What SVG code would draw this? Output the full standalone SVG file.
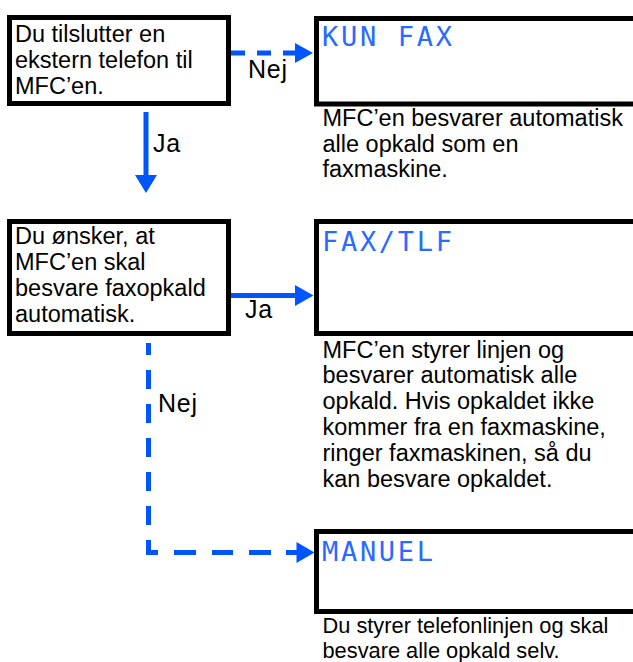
<svg xmlns="http://www.w3.org/2000/svg" width="633" height="662" viewBox="0 0 633 662">
  <style>
    .box { fill: #ffffff; stroke: #000000; stroke-width: 5; }
    .txt { font-family: "Liberation Sans", Arial, sans-serif; font-size: 23.5px; fill: #000000; }
    .small { font-size: 21.8px; }
    .lbl { font-family: "Liberation Sans", Arial, sans-serif; font-size: 25px; letter-spacing: 0.8px; fill: #000000; }
    .lcd { font-family: "DejaVu Sans Mono", monospace; font-size: 27px; fill: #2a6bff; letter-spacing: 2.7px; }
    .conn { fill: none; stroke: #0055ff; stroke-width: 5; stroke-linecap: butt; }
    .head { fill: #0055ff; }
  </style>
  <rect width="633" height="662" fill="#ffffff"/>

  <g id="connectors">
    <path class="conn" d="M231,53 H296" stroke-dasharray="14 12"/>
    <polygon class="head" points="295,43 313,53 295,63"/>
    <path class="conn" d="M146,112 V176"/>
    <polygon class="head" points="135,175 157,175 146,193"/>
    <path class="conn" d="M231,295.5 H296"/>
    <polygon class="head" points="295,285 313.5,295.5 295,306"/>
    <path class="conn" d="M148.5,343 V552.5 H298" stroke-dasharray="12 15 19 15 19 15 19 15 19 15 19 15 22 16 22 16 21 16 22 15 12 100"/>
    <polygon class="head" points="296.5,542 314.5,552.5 296.5,563"/>
    <text class="lbl" x="248" y="78">Nej</text>
    <text class="lbl" x="153" y="152">Ja</text>
    <text class="lbl" x="245" y="318">Ja</text>
    <text class="lbl" x="158" y="412">Nej</text>
  </g>

  <g id="q1">
    <rect class="box" x="9.5" y="17.5" width="219" height="86"/>
    <text class="txt" x="15" y="41.5">Du tilslutter en</text>
    <text class="txt" x="15" y="67.5">ekstern telefon til</text>
    <text class="txt" x="15" y="93.5">MFC’en.</text>
  </g>

  <g id="kunfax">
    <rect class="box" x="316.5" y="18.5" width="330" height="85.5"/>
    <text class="lcd" x="322" y="46">KUN FAX</text>
    <text class="txt" x="322.5" y="126">MFC’en besvarer automatisk</text>
    <text class="txt" x="322.5" y="151.5">alle opkald som en</text>
    <text class="txt" x="322.5" y="177">faxmaskine.</text>
  </g>

  <g id="q2">
    <rect class="box" x="9.5" y="221.5" width="219" height="112"/>
    <text class="txt" x="15" y="244">Du ønsker, at</text>
    <text class="txt" x="15" y="270">MFC’en skal</text>
    <text class="txt" x="15" y="296">besvare faxopkald</text>
    <text class="txt" x="15" y="322">automatisk.</text>
  </g>

  <g id="faxtlf">
    <rect class="box" x="316.5" y="221.5" width="330" height="112"/>
    <text class="lcd" x="322" y="250.5">FAX/TLF</text>
    <text class="txt" x="322.5" y="357.5">MFC’en styrer linjen og</text>
    <text class="txt" x="322.5" y="383.3">besvarer automatisk alle</text>
    <text class="txt" x="322.5" y="409">opkald. Hvis opkaldet ikke</text>
    <text class="txt" x="322.5" y="434.8">kommer fra en faxmaskine,</text>
    <text class="txt" x="322.5" y="460.6">ringer faxmaskinen, så du</text>
    <text class="txt" x="322.5" y="486.5">kan besvare opkaldet.</text>
  </g>

  <g id="manuel">
    <rect class="box" x="316.5" y="531.5" width="330" height="80"/>
    <text class="lcd" x="322" y="560.5">MANUEL</text>
    <text class="txt small" x="322.5" y="633">Du styrer telefonlinjen og skal</text>
    <text class="txt small" x="322.5" y="657.5">besvare alle opkald selv.</text>
  </g>
</svg>
